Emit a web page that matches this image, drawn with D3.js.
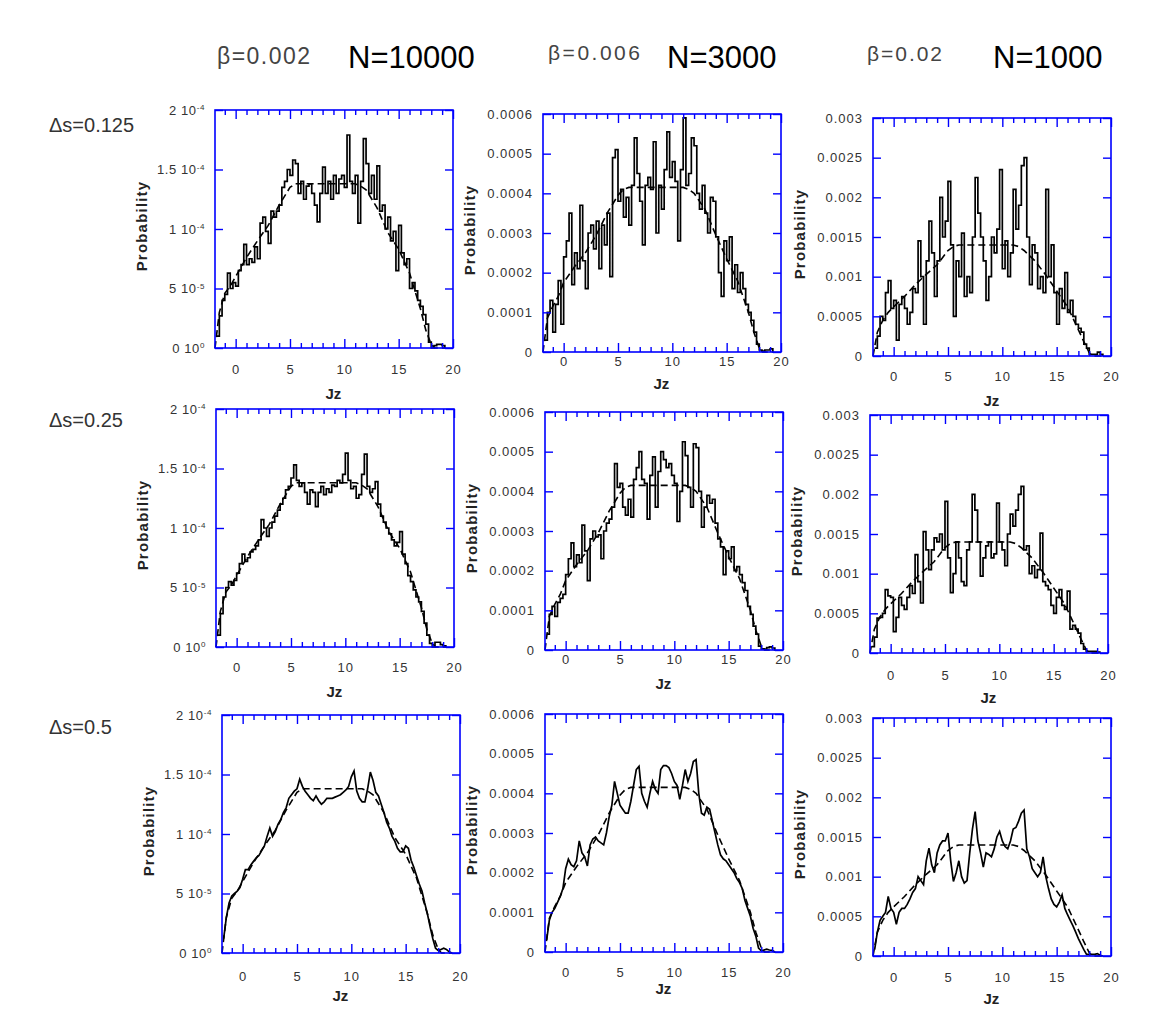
<!DOCTYPE html>
<html>
<head>
<meta charset="utf-8">
<script src="https://cdn.jsdelivr.net/npm/d3@7"></script>
<style>
  body { margin: 0; background: #fff; }
</style>
</head>
<body>
<script>
// Column / row headers
const betaLabels = ["β=0.002", "β=0.006", "β=0.02"];
const nLabels = ["N=10000", "N=3000", "N=1000"];
const dsLabels = ["Δs=0.125", "Δs=0.25", "Δs=0.5"];

// Jz axis
const jzDomain = [-1.9, 20];
const jzMajor = [0, 5, 10, 15, 20];
const jzStart = -1.75;   // first histogram bin
const binWidth = 0.25;

// Probability axis per column (values in units of 1e-4, 1e-4, 1e-3)
const yMax = [2, 6, 3];
const yTickValues = [
  [0, 0.5, 1, 1.5, 2],
  [0, 1, 2, 3, 4, 5, 6],
  [0, 0.5, 1, 1.5, 2, 2.5, 3]
];
const yTickLabels = [
  ["0 10^0", "5 10^-5", "1 10^-4", "1.5 10^-4", "2 10^-4"],
  ["0", "0.0001", "0.0002", "0.0003", "0.0004", "0.0005", "0.0006"],
  ["0", "0.0005", "0.001", "0.0015", "0.002", "0.0025", "0.003"]
];

// Smooth reference distribution (dashed), one per column
const smoothJz = [-1.9, -1.5, -1, -0.5, 0, 1, 2, 3, 4, 5, 5.5, 6, 8, 10, 11, 11.5, 12, 13, 14, 15, 16, 17, 17.5, 18, 18.3, 19.3];
const smoothB002 = [0, 0.3, 0.46, 0.52, 0.6, 0.76, 0.9, 1.03, 1.2, 1.35, 1.38, 1.38, 1.38, 1.38, 1.38, 1.36, 1.33, 1.18, 0.97, 0.83, 0.63, 0.33, 0.15, 0.03, 0, 0];
const smoothB006 = [0, 0.85, 1.15, 1.4, 1.75, 2.15, 2.5, 2.95, 3.5, 3.95, 4.1, 4.15, 4.15, 4.15, 4.15, 4.1, 4.0, 3.6, 2.95, 2.35, 1.8, 1.0, 0.5, 0.1, 0, 0];
const smoothB02 = [0, 0.3, 0.45, 0.55, 0.62, 0.75, 0.9, 1.03, 1.15, 1.33, 1.38, 1.4, 1.4, 1.4, 1.4, 1.38, 1.33, 1.2, 1.02, 0.82, 0.62, 0.33, 0.18, 0.04, 0, 0];

// Sampled histograms, bins of 0.25 starting at Jz = -1.75
const probB002Ds0125 = [
  0.1, 0.27, 0.4,
  0.45, 0.63, 0.5, 0.55, 0.52, 0.65, 0.7, 0.87,
  0.7, 0.75, 0.72, 0.85, 0.75, 1.05, 1.1, 0.98,
  0.88, 1.15, 1.1, 1.15, 1.2, 1.35, 1.4, 1.5,
  1.45, 1.58, 1.55, 1.3, 1.4, 1.25, 1.36, 1.38,
  1.3, 1.2, 1.06, 1.3, 1.52, 1.3, 1.4, 1.25,
  1.45, 1.3, 1.42, 1.45, 1.35, 1.79, 1.4, 1.3,
  1.45, 1.05, 1.4, 1.76, 1.55, 1.3, 1.45, 1.25,
  1.53, 1.15, 1.2, 1.0, 1.1, 0.9, 0.98, 0.65,
  1.03, 0.8, 0.7, 0.75, 0.5, 0.55, 0.48, 0.4,
  0.35, 0.28, 0.2, 0.05, 0, 0.02, 0.03, 0.03,
  0.02, 0
];
const probB006Ds0125 = [
  0.3, 1.0, 1.3,
  0.5, 1.2, 1.8, 0.7, 2.4, 2.8, 3.5, 1.7,
  2.5, 2.1, 3.7, 2.3, 1.6, 3.0, 3.2, 2.6,
  3.3, 2.1, 3.2, 2.7, 3.5, 1.9, 4.9, 5.1,
  3.8, 4.1, 3.4, 3.9, 3.2, 4.2, 5.4, 4.5,
  3.8, 2.7, 4.2, 4.4, 4.1, 5.3, 3.0, 4.2,
  3.6, 4.6, 5.55, 4.4, 4.8, 4.3, 2.8, 4.6,
  5.9, 4.2, 4.5, 5.4, 5.2, 4.0, 3.6, 4.2,
  3.5, 3.0, 3.9, 3.8, 2.9, 2.0, 1.4, 2.8,
  2.3, 2.9, 1.6, 2.2, 1.5, 2.0, 1.6, 1.2,
  1.0, 0.8, 0.5, 0.2, 0.05, 0.02, 0.05, 0.05,
  0.08, 0
];
const probB02Ds0125 = [
  0.1, 0.25, 0.5,
  0.45, 0.8, 0.95, 0.6, 0.7, 0.2, 0.65, 0.75,
  0.6, 0.4, 0.55, 0.85, 0.8, 1.45, 1.0, 0.4,
  1.2, 1.7, 1.3, 0.75, 1.2, 2.0, 1.5, 1.7,
  2.2, 1.4, 0.5, 1.2, 1.0, 1.55, 0.75, 1.0,
  0.8, 1.5, 2.25, 1.8, 1.5, 1.2, 0.7, 1.0,
  1.5, 1.3, 1.6, 2.35, 1.1, 1.45, 1.0, 1.3,
  2.1, 1.6, 1.9, 2.4, 2.5, 1.5, 0.9, 1.4,
  1.3, 0.85, 1.0, 0.8, 2.1, 1.0, 1.4, 0.8,
  0.4, 0.85, 0.6, 1.05, 0.55, 0.7, 0.5, 0.4,
  0.35, 0.3, 0.15, 0.1, 0.02, 0.02, 0.02, 0.05,
  0.02, 0
];
const probB002Ds025 = [
  0.1, 0.28, 0.42,
  0.5, 0.55, 0.52, 0.56, 0.62, 0.7, 0.78, 0.72,
  0.75, 0.8, 0.82, 0.85, 0.9, 1.07, 1.0, 0.93,
  1.0, 1.05, 1.1, 1.15, 1.2, 1.25, 1.32, 1.35,
  1.42, 1.53, 1.4, 1.35, 1.38, 1.3, 1.2, 1.32,
  1.3, 1.18, 1.3, 1.35, 1.28, 1.33, 1.3, 1.36,
  1.35, 1.4, 1.38, 1.45, 1.63, 1.4, 1.33, 1.35,
  1.25, 1.28, 1.45, 1.62, 1.35, 1.3, 1.33, 1.39,
  1.2, 1.1, 1.05, 1.0, 0.95, 0.9, 0.85, 0.88,
  0.97, 0.78, 0.7, 0.6, 0.55, 0.48, 0.42, 0.38,
  0.3, 0.2, 0.1, 0.03, 0, 0.04, 0.04, 0.02,
  0.01, 0
];
const probB006Ds025 = [
  0.4, 0.9, 1.1,
  0.85, 1.2, 1.3, 1.4, 1.9, 2.3, 2.7, 2.1,
  2.4, 2.2, 3.15, 2.5, 1.75, 2.8, 3.0, 2.85,
  2.9, 2.3, 3.0, 3.2, 3.3, 3.6, 4.7, 4.1,
  4.2, 3.6, 3.4, 3.8, 3.35, 4.3, 4.6, 5.0,
  4.3, 4.2, 3.3, 4.4, 4.87, 3.6, 4.5, 5.0,
  4.8, 4.6, 4.7, 4.4, 4.2, 3.24, 4.0, 5.25,
  4.9, 4.1, 3.6, 5.2, 5.1, 4.0, 3.1, 3.6,
  3.9, 3.7, 3.8, 3.2, 2.8, 2.6, 1.9, 2.5,
  2.3, 2.6, 2.0, 2.1, 1.9, 1.7, 1.5, 1.1,
  0.9, 0.6, 0.4, 0.1, 0.03, 0.02, 0.06, 0.08,
  0.05, 0
];
const probB02Ds025 = [
  0.08, 0.2, 0.44,
  0.45, 0.5, 0.8, 0.72, 0.7, 0.27, 0.45, 0.7,
  0.6, 0.55, 0.7, 0.85, 0.75, 1.24, 0.9, 0.63,
  1.53, 1.3, 1.05, 1.3, 1.45, 1.4, 1.5, 1.3,
  1.91, 1.2, 0.76, 1.0, 1.4, 1.2, 0.9, 0.85,
  1.3, 1.4, 2.0, 1.8, 1.4, 0.97, 1.2, 1.35,
  1.4, 1.2, 1.25, 1.89, 1.4, 1.3, 1.1, 1.5,
  1.75, 1.6, 1.8, 2.0, 2.1, 1.3, 1.35, 1.0,
  1.1, 0.95, 1.05, 1.51, 0.9, 0.85, 0.8, 0.6,
  0.5, 0.7, 0.8, 0.6, 0.55, 0.78, 0.3, 0.35,
  0.3, 0.25, 0.12, 0.05, 0.02, 0.02, 0.02, 0.02,
  0.01, 0
];
const probB002Ds05 = [
  0.12, 0.3, 0.42,
  0.48, 0.5, 0.52, 0.55, 0.62, 0.7, 0.7, 0.74,
  0.77, 0.8, 0.82, 0.86, 0.9, 0.98, 1.05, 0.98,
  1.02, 1.08, 1.12, 1.18, 1.22, 1.3, 1.33, 1.36,
  1.38, 1.46, 1.4, 1.36, 1.33, 1.3, 1.28, 1.32,
  1.28, 1.25, 1.27, 1.3, 1.3, 1.3, 1.31, 1.32,
  1.33, 1.35, 1.37, 1.4, 1.48, 1.53, 1.36, 1.3,
  1.27, 1.27, 1.38, 1.52, 1.45, 1.35, 1.32, 1.25,
  1.18, 1.1, 1.05, 0.98, 0.94, 0.88, 0.85, 0.85,
  0.9, 0.88, 0.78, 0.72, 0.65, 0.58, 0.52, 0.42,
  0.33, 0.22, 0.12, 0.04, 0.02, 0.03, 0.04, 0.03,
  0.01, 0
];
const probB006Ds05 = [
  0.3, 0.8, 1.0,
  1.1, 1.25, 1.4, 1.6, 2.1, 2.34, 2.2, 2.15,
  2.3, 2.8, 2.5, 2.4, 2.17, 2.7, 2.85, 2.9,
  2.8, 2.75, 2.7, 3.0, 3.4, 3.7, 4.3, 4.0,
  3.7, 3.6, 3.5, 3.5, 3.8, 4.2, 4.6, 4.68,
  4.0, 3.8, 3.65, 4.0, 4.3, 4.1, 4.0, 4.6,
  4.7, 4.7, 4.65, 4.5, 4.3, 4.2, 3.85, 4.2,
  4.6, 4.3, 4.5, 4.8, 4.85, 4.0, 3.5, 3.45,
  3.65, 3.6, 3.3, 3.0, 2.7, 2.45, 2.35, 2.3,
  2.2, 2.1, 2.0, 1.85, 1.75, 1.6, 1.3, 1.1,
  0.9, 0.6, 0.4, 0.1, 0.03, 0.05, 0.07, 0.05,
  0.04, 0
];
const probB02Ds05 = [
  0.08, 0.3, 0.45,
  0.5, 0.55, 0.75, 0.6, 0.55, 0.4, 0.55, 0.6,
  0.6, 0.65, 0.72, 0.8, 0.85, 1.0, 0.95, 0.9,
  1.2, 1.36, 1.15, 1.05, 1.3, 1.4, 1.45, 1.45,
  1.55, 1.2, 0.94, 1.05, 1.2, 1.0, 0.92, 0.95,
  1.3, 1.6, 1.82, 1.45, 1.3, 1.12, 1.3, 1.28,
  1.25, 1.35, 1.5, 1.57, 1.45, 1.38, 1.35, 1.45,
  1.6, 1.62, 1.7, 1.8, 1.84, 1.35, 1.25, 1.1,
  1.05, 1.0, 1.05, 1.25, 1.0, 0.85, 0.72, 0.65,
  0.62, 0.68, 0.77, 0.6, 0.52, 0.45, 0.38, 0.3,
  0.22, 0.15, 0.08, 0.02, 0.02, 0.02, 0.02, 0.03,
  0.01, 0
];

const noisySeries = [
  [probB002Ds0125, probB006Ds0125, probB02Ds0125],
  [probB002Ds025, probB006Ds025, probB02Ds025],
  [probB002Ds05, probB006Ds05, probB02Ds05]
];
const smoothSeries = [smoothB002, smoothB006, smoothB02];

// Layout (pixels), [row][col]
const panelLeft = [[215, 543, 873], [216, 545, 870], [222, 545, 873]];
const panelTop = [[110, 114, 118], [409, 412, 415], [715, 714, 718]];
const panelSize = 238;
const xLabelGap = [[22, 10, 21], [21, 10, 23], [24, 21, 22]];
const jzLabelGap = [[45, 31, 44], [44, 33, 44], [42, 36, 42]];

const frameBlue = "#0000ff";
const font = "'Liberation Sans', Arial, Helvetica, sans-serif";

const svg = d3.select("body").append("svg")
  .attr("width", 1165)
  .attr("height", 1031)
  .style("background", "#fff");

// Headers
svg.append("g").selectAll("text")
  .data(betaLabels)
  .join("text")
  .attr("x", (d, i) => [217, 548, 867][i])
  .attr("y", (d, i) => [64, 60, 61][i])
  .attr("textLength", (d, i) => [93, 92, 75][i])
  .attr("lengthAdjust", "spacing")
  .attr("font-family", font)
  .attr("font-size", (d, i) => [23, 21, 21][i])
  .attr("fill", "#444")
  .text(d => d);

svg.append("g").selectAll("text")
  .data(nLabels)
  .join("text")
  .attr("x", (d, i) => [348, 667, 993][i])
  .attr("y", 68)
  .attr("font-family", font)
  .attr("font-size", 31)
  .attr("fill", "#000")
  .text(d => d);

svg.append("g").selectAll("text")
  .data(dsLabels)
  .join("text")
  .attr("x", 49)
  .attr("y", (d, i) => [132, 427, 734][i])
  .attr("font-family", font)
  .attr("font-size", 20)
  .attr("fill", "#333")
  .text(d => d);

function drawPanel(row, col) {
  const g = svg.append("g")
    .attr("transform", `translate(${panelLeft[row][col]},${panelTop[row][col]})`);

  const x = d3.scaleLinear(jzDomain, [0, panelSize]);
  const y = d3.scaleLinear([0, yMax[col]], [panelSize, 0]);

  // dashed smooth curve
  g.append("path")
    .datum(smoothJz.map((j, i) => [j, smoothSeries[col][i]]))
    .attr("fill", "none")
    .attr("stroke", "#000")
    .attr("stroke-width", 1.6)
    .attr("stroke-dasharray", "7,4")
    .attr("d", d3.line().x(d => x(d[0])).y(d => y(d[1])));

  // sampled histogram
  const line = d3.line()
    .x((d, i) => x(jzStart + i * binWidth))
    .y(d => y(d))
    .curve(row === 2 ? d3.curveLinear : d3.curveStepAfter);

  g.append("path")
    .datum(noisySeries[row][col])
    .attr("fill", "none")
    .attr("stroke", "#000")
    .attr("stroke-width", 1.7)
    .attr("d", line);

  const minorJz = d3.range(-1, 20).filter(v => v % 5 !== 0);
  const styleTicks = a => a
    .call(a => a.select(".domain").remove())
    .call(a => a.selectAll(".tick line").attr("stroke", frameBlue).attr("stroke-width", 1.4));

  // bottom ticks (inward) + labels
  g.append("g")
    .attr("transform", `translate(0,${panelSize})`)
    .call(d3.axisBottom(x).tickValues(minorJz).tickSize(-5).tickFormat(""))
    .call(styleTicks);
  g.append("g")
    .attr("transform", `translate(0,${panelSize})`)
    .call(d3.axisBottom(x).tickValues(jzMajor).tickSize(-9).tickPadding(xLabelGap[row][col] - 5))
    .call(styleTicks)
    .call(a => a.selectAll(".tick text")
      .attr("fill", "#333")
      .attr("font-size", 13)
      .attr("letter-spacing", 1))
    .attr("font-family", font);

  // top ticks (inward)
  g.append("g")
    .call(d3.axisTop(x).tickValues(minorJz).tickSize(-5).tickFormat(""))
    .call(styleTicks);
  g.append("g")
    .call(d3.axisTop(x).tickValues(jzMajor).tickSize(-9).tickFormat(""))
    .call(styleTicks);

  // left axis with labels
  g.append("g")
    .call(d3.axisLeft(y)
      .tickValues(yTickValues[col])
      .tickFormat((d, i) => yTickLabels[col][i])
      .tickSize(-8)
      .tickPadding(10))
    .call(styleTicks)
    .call(a => a.selectAll(".tick text")
      .attr("fill", "#333")
      .attr("font-size", 13)
      .attr("letter-spacing", col === 0 ? 0.6 : 1)
      .each(function() {
        const t = d3.select(this);
        const parts = t.text().split("^");
        if (parts.length === 2) {
          t.text(parts[0]);
          t.append("tspan")
            .attr("dy", "-0.55em")
            .attr("font-size", 8)
            .text(parts[1]);
        }
      }))
    .attr("font-family", font);

  // right axis ticks
  g.append("g")
    .attr("transform", `translate(${panelSize},0)`)
    .call(d3.axisRight(y).tickValues(yTickValues[col]).tickSize(-8).tickFormat(""))
    .call(styleTicks);

  // frame
  g.append("rect")
    .attr("width", panelSize)
    .attr("height", panelSize)
    .attr("fill", "none")
    .attr("stroke", frameBlue)
    .attr("stroke-width", 1.6);

  // axis titles
  g.append("text")
    .attr("transform", `translate(-74,${panelSize / 2 - 3}) rotate(-90)`)
    .attr("text-anchor", "middle")
    .attr("dominant-baseline", "central")
    .attr("font-family", font)
    .attr("font-weight", "bold")
    .attr("font-size", 15)
    .attr("letter-spacing", 1.2)
    .attr("fill", "#222")
    .text("Probability");

  g.append("text")
    .attr("x", x(9))
    .attr("y", panelSize + jzLabelGap[row][col])
    .attr("text-anchor", "middle")
    .attr("dominant-baseline", "central")
    .attr("font-family", font)
    .attr("font-weight", "bold")
    .attr("font-size", 15)
    .attr("fill", "#222")
    .text("Jz");
}

for (let row = 0; row < 3; row++) {
  for (let col = 0; col < 3; col++) drawPanel(row, col);
}
</script>
</body>
</html>
